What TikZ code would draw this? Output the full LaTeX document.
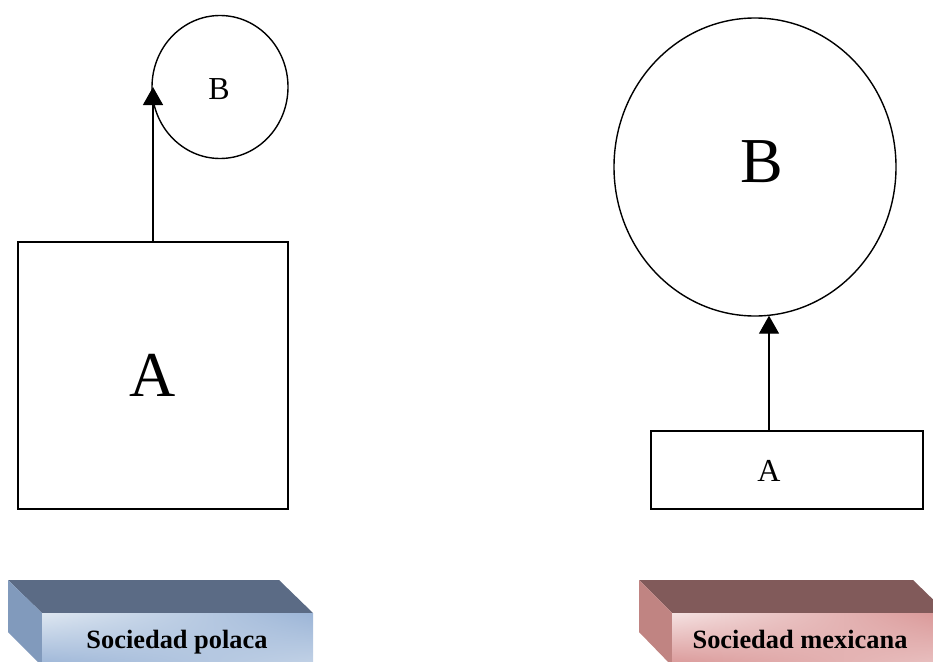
\documentclass[tikz,border=0pt]{standalone}
\usepackage{fontspec}
\setmainfont{Liberation Serif}
\usetikzlibrary{arrows.meta,calc,shadings,shapes.geometric}
\definecolor{bluetop}{HTML}{5B6B85}
\definecolor{blueside}{HTML}{819ABC}
\definecolor{bluelight}{HTML}{DEE7F1}
\definecolor{bluedark}{HTML}{9CB5D7}
\definecolor{redtop}{HTML}{815A5A}
\definecolor{redside}{HTML}{C08482}
\definecolor{redlight}{HTML}{F5E2E2}
\definecolor{reddark}{HTML}{D99696}
\tikzset{
  shapeline/.style={draw=black,line width=1.4pt},
  boxnode/.style={shapeline,rectangle,inner sep=0pt},
  ovalnode/.style={shapeline,ellipse,inner sep=0pt},
  bigtext/.style={font=\fontsize{64}{70}\selectfont,inner sep=0pt},
  smalltext/.style={font=\fontsize{32}{36}\selectfont,inner sep=0pt},
  arr/.style={line width=1.4pt,-{Triangle[length=18pt,width=20pt]}},
  labeltext/.style={font=\fontsize{26.4}{30}\selectfont\bfseries,inner sep=0pt,anchor=base},
}
\begin{document}
\begin{tikzpicture}[x=1pt,y=-1pt]
\useasboundingbox (0,0) rectangle (933,661);
\begin{scope}
\clip (0,0) rectangle (933,661);
% left 3D label
\fill[bluetop] (8,580) -- (279,580) -- (313,613) -- (42,613) -- cycle;
\fill[blueside] (8,580) -- (42,613) -- (42,666) -- (8,632) -- cycle;
\shade[upper left=bluelight,upper right=bluedark,lower left=bluedark,lower right=bluelight!60!bluedark] (42,613) rectangle (313,666);
% right 3D label
\fill[redtop] (639,580) -- (913,580) -- (947,613) -- (672,613) -- cycle;
\fill[redside] (639,580) -- (672,613) -- (672,666) -- (639,632) -- cycle;
\shade[upper left=redlight,upper right=reddark,lower left=reddark,lower right=redlight!60!reddark] (672,613) rectangle (947,666);
\end{scope}
\node[labeltext] (lp) at (177,648) {Sociedad polaca};
\node[labeltext] (lm) at (800,648) {Sociedad mexicana};
% left diagram
\node[boxnode,minimum width=270pt,minimum height=267pt] (boxL) at (153,375.5) {};
\node[bigtext] (tA1) at (153,375) {A};
\node[ovalnode,minimum width=136pt,minimum height=143pt] (ovL) at (220,87) {};
\node[smalltext] (tB1) at (219,89) {B};
\draw[arr] (boxL.north) -- (ovL.west -| boxL.north);
% right diagram
\node[ovalnode,minimum width=282pt,minimum height=298pt] (ovR) at (755,167) {};
\node[bigtext] (tB2) at (762,162) {B};
\node[boxnode,minimum width=272pt,minimum height=78pt] (boxR) at (787,470) {};
\node[smalltext] (tA2) at (769,471) {A};
\coordinate (ax) at (769,0);
\draw[arr] (boxR.north -| ax) -- ($(ovR.south -| ax)+(0,-1)$);
\end{tikzpicture}
\end{document}
